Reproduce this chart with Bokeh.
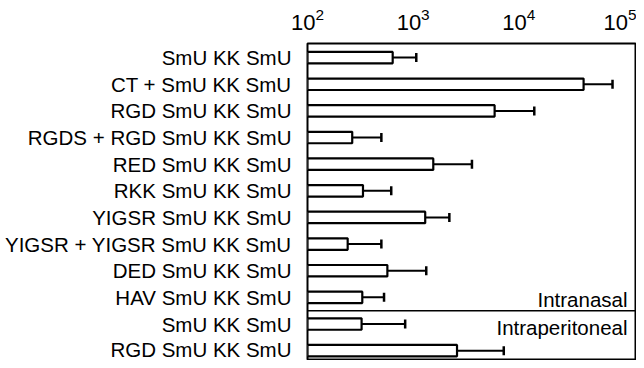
from bokeh.plotting import figure
from bokeh.models import (ColumnDataSource, Range1d, LogAxis, LinearAxis, FixedTicker,
                          Whisker, TeeHead, Span, Label, LogTickFormatter, LogScale)
from bokeh.embed import file_html
from bokeh.resources import INLINE

labels = ["SmU KK SmU", "CT + SmU KK SmU", "RGD SmU KK SmU", "RGDS + RGD SmU KK SmU",
          "RED SmU KK SmU", "RKK SmU KK SmU", "YIGSR SmU KK SmU",
          "YIGSR + YIGSR SmU KK SmU", "DED SmU KK SmU", "HAV SmU KK SmU",
          "SmU KK SmU", "RGD SmU KK SmU"]
means = [640, 41000, 5900, 265, 1550, 335, 1300, 240, 570, 330, 325, 2600]
uppers = [1070, 77000, 14000, 500, 3600, 620, 2200, 500, 1330, 530, 840, 7200]
groups = ["Intranasal"] * 10 + ["Intraperitoneal"] * 2
x_ticks = [100, 1000, 10000, 100000]
x_start = 100
x_end = 10 ** 5.104

ypos = list(range(len(labels)))
n_in = groups.count("Intranasal")

src = ColumnDataSource(dict(y=ypos, left=[x_start] * len(means), right=means,
                            upper=uppers))

p = figure(frame_width=328, frame_height=317, x_axis_type=None, y_axis_location=None,
           x_range=Range1d(x_start, x_end), y_range=Range1d(11.37, -0.53),
           output_backend="svg", toolbar_location=None,
           min_border_left=307, min_border_top=43, min_border_right=1, min_border_bottom=0,
           background_fill_color="white", border_fill_color="white")
p.x_scale = LogScale()
p.xgrid.visible = False
p.ygrid.visible = False
p.outline_line_color = "black"
p.outline_line_width = 2

xa = LogAxis(ticker=FixedTicker(ticks=x_ticks), formatter=LogTickFormatter())
xa.axis_line_color = None
xa.major_tick_line_color = None
xa.minor_tick_line_color = None
xa.major_label_text_font = "Liberation Sans"
xa.major_label_text_font_size = "22px"
xa.major_label_text_color = "black"
xa.major_label_standoff = 8
p.add_layout(xa, "above")

ya = LinearAxis(ticker=FixedTicker(ticks=ypos),
                major_label_overrides={i: l for i, l in zip(ypos, labels)})
ya.axis_line_color = None
ya.major_tick_line_color = None
ya.minor_tick_line_color = None
ya.major_label_text_font = "Liberation Sans"
ya.major_label_text_font_size = "20.5px"
ya.major_label_text_color = "black"
ya.major_label_standoff = 10
p.add_layout(ya, "left")

p.hbar(y="y", left="left", right="right", height=0.43, source=src,
       fill_color="white", line_color="black", line_width=2.2)

w = Whisker(base="y", lower="right", upper="upper", dimension="width", source=src,
            line_color="black", line_width=2,
            upper_head=TeeHead(size=9, line_color="black", line_width=2.5),
            lower_head=None)
p.add_layout(w)

p.add_layout(Span(location=n_in - 0.5, dimension="width", line_color="black",
                  line_width=1.5))

p.add_layout(Label(x=x_end, y=n_in - 0.5, x_offset=-8, y_offset=11, text="Intranasal",
                   text_align="right", text_baseline="alphabetic",
                   text_font="Liberation Sans", text_font_size="20.5px", text_color="black"))
p.add_layout(Label(x=x_end, y=n_in - 0.5, x_offset=-8, y_offset=-5, text="Intraperitoneal",
                   text_align="right", text_baseline="top",
                   text_font="Liberation Sans", text_font_size="20.5px", text_color="black"))

open("out.html", "w").write(file_html(p, INLINE))
